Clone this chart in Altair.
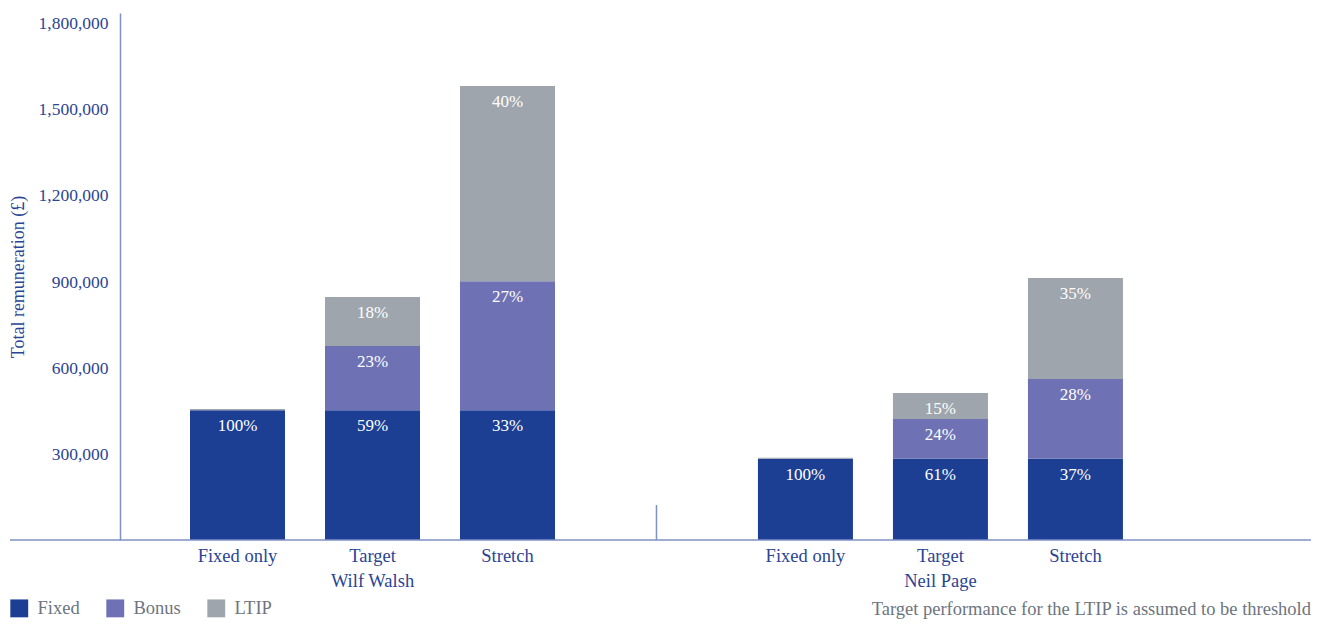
import altair as alt
import pandas as pd

persons = ["Wilf Walsh", "Neil Page"]
scenarios = ["Fixed only", "Target", "Stretch"]
components = ["Fixed", "Bonus", "LTIP"]
colors = ["#1c3f94", "#6e72b4", "#9ea5ac"]

wilf_fixed = [453000, 453000, 453000]
wilf_bonus = [0, 224000, 450000]
wilf_ltip = [4000, 171000, 681000]
neil_fixed = [283000, 283000, 283000]
neil_bonus = [0, 139000, 279000]
neil_ltip = [4000, 91000, 352000]

wilf_fixed_pct = ["100%", "59%", "33%"]
wilf_bonus_pct = ["", "23%", "27%"]
wilf_ltip_pct = ["", "18%", "40%"]
neil_fixed_pct = ["100%", "61%", "37%"]
neil_bonus_pct = ["", "24%", "28%"]
neil_ltip_pct = ["", "15%", "35%"]

y_ticks = [300000, 600000, 900000, 1200000, 1500000, 1800000]
y_title = "Total remuneration (£)"
footnote = "Target performance for the LTIP is assumed to be threshold"

FONT = "Liberation Serif"
BLUE = "#2a4494"
GREY = "#6d7580"
AXIS_LINE = "#7f90c6"

W, H = 1191, 527
GROUP_GAP = 4.207  # slot offset of the second director's group

values = {
    "Wilf Walsh": [wilf_fixed, wilf_bonus, wilf_ltip],
    "Neil Page": [neil_fixed, neil_bonus, neil_ltip],
}
pcts = {
    "Wilf Walsh": [wilf_fixed_pct, wilf_bonus_pct, wilf_ltip_pct],
    "Neil Page": [neil_fixed_pct, neil_bonus_pct, neil_ltip_pct],
}

rows, cats = [], []
for pi, person in enumerate(persons):
    for si, scen in enumerate(scenarios):
        pos = si + (GROUP_GAP if pi == 1 else 0)
        cats.append({"pos": pos, "scen": scen, "name": person if scen == "Target" else ""})
        cum = 0
        for ci, comp in enumerate(components):
            v = values[person][ci][si]
            cum += v
            rows.append({"pos": pos, "component": comp, "ci": ci, "value": v,
                         "top": cum, "label": pcts[person][ci][si]})
df = pd.DataFrame(rows)
cat_df = pd.DataFrame(cats)

xscale = alt.Scale(domain=[-0.8704, -0.8704 + W / 135], nice=False, zero=False, padding=0)
yscale = alt.Scale(domain=[0, 1838372], nice=False, padding=0)

bars = alt.Chart(df).mark_bar(size=95).encode(
    x=alt.X("pos:Q", scale=xscale, axis=None),
    y=alt.Y("value:Q", stack="zero", scale=yscale,
            axis=alt.Axis(values=y_ticks, format=",.0f", title=y_title)),
    color=alt.Color("component:N",
                    scale=alt.Scale(domain=components, range=colors),
                    legend=alt.Legend(orient="none", legendX=-110, legendY=586,
                                      direction="horizontal", title=None,
                                      symbolType="square", symbolSize=320,
                                      symbolStrokeWidth=0, symbolOpacity=1,
                                      labelFont=FONT, labelFontSize=18.5,
                                      labelColor=GREY, columnPadding=26,
                                      labelOffset=9)),
    order=alt.Order("ci:Q"),
)

bar_text = alt.Chart(df).transform_filter("datum.label != ''").mark_text(
    dy=16, baseline="middle", color="white", font=FONT, fontSize=17
).encode(
    x=alt.X("pos:Q", scale=xscale),
    y=alt.Y("top:Q", scale=yscale),
    text="label:N",
)

cat_text = alt.Chart(cat_df).mark_text(
    baseline="middle", color=BLUE, font=FONT, fontSize=18.5
).encode(x=alt.X("pos:Q", scale=xscale), y=alt.value(H + 16), text="scen:N")

name_text = alt.Chart(cat_df).transform_filter("datum.name != ''").mark_text(
    baseline="middle", color=BLUE, font=FONT, fontSize=18.5
).encode(x=alt.X("pos:Q", scale=xscale), y=alt.value(H + 41), text="name:N")

baseline = alt.Chart(pd.DataFrame({"v": [0]})).mark_rule(
    color=AXIS_LINE, strokeWidth=1.5
).encode(y=alt.Y("v:Q", scale=yscale), x=alt.value(-110), x2=alt.value(W))

sep = alt.Chart(pd.DataFrame({"p": [(2 + GROUP_GAP) / 2]})).mark_rule(
    color=AXIS_LINE, strokeWidth=1.5
).encode(x=alt.X("p:Q", scale=xscale), y=alt.value(H - 35), y2=alt.value(H))

foot = alt.Chart(pd.DataFrame({"t": [footnote]})).mark_text(
    align="right", baseline="middle", color=GREY, font=FONT, fontSize=18.5
).encode(text="t:N", x=alt.value(W), y=alt.value(H + 69))

chart = alt.layer(bars, bar_text, cat_text, name_text, baseline, sep, foot).properties(
    width=W, height=H,
    autosize=alt.AutoSizeParams(type="none"),
    padding={"left": 112, "top": 5, "right": 0, "bottom": 80},
).configure_view(stroke=None).configure_axisY(
    domainColor=AXIS_LINE, domainWidth=1.5, ticks=False, grid=False,
    labelColor=BLUE, labelFont=FONT, labelFontSize=17.5, labelPadding=12,
    titleColor=BLUE, titleFont=FONT, titleFontSize=18, titleFontWeight="normal",
    titleX=-102, titleY=H / 2, titleAlign="center", titleBaseline="middle",
    titleAngle=270,
)

chart.save("out.html", embed_options={"renderer": "svg", "actions": False})
